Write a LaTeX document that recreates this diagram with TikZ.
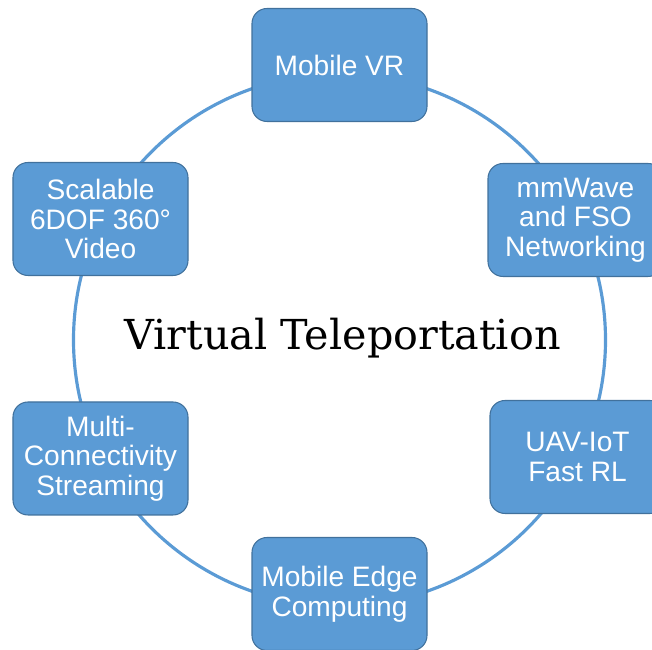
\documentclass[tikz,border=0pt]{standalone}
\usepackage{fontspec}
\setmainfont{Liberation Sans}
\newfontfamily\titlefont{DejaVu Serif}
\usepackage{tikz}
\definecolor{boxblue}{HTML}{5B9BD5}
\definecolor{boxline}{HTML}{41719C}

\begin{document}
\begin{tikzpicture}[auto,
    topic/.style={rectangle, rounded corners=0.3cm, draw=boxline, line width=0.6pt, fill=boxblue,
      text=white, align=center, minimum width=3.5cm, minimum height=2.26cm, inner sep=1pt,
      font=\fontsize{16}{16.8}\selectfont},
    ring/.style={draw=boxblue, line width=1.8pt}]

    \clip (0,0) rectangle (13.04,13.0);

    % Define the centre label and the ring round it
    \node[font=\titlefont\fontsize{23.5}{26}\selectfont] (tele) at (6.85,6.24) {Virtual Teleportation};
    \coordinate (mid) at (6.79,6.2);
    \draw[ring] (mid) circle (5.32cm);

    % Define the topic boxes with coordinates
    \node[topic] (vr) at (6.79,11.7) {Mobile VR};
    \node[topic] (mmw) at (11.51,8.6) {mmWave\\and FSO\\Networking};
    \node[topic] (uav) at (11.55,3.86) {UAV-IoT\\Fast RL};
    \node[topic] (mec) at (6.79,1.12) {Mobile Edge\\Computing};
    \node[topic] (multi) at (2.01,3.83) {Multi-\\Connectivity\\Streaming};
    \node[topic] (dof) at (2.01,8.62) {Scalable\\6DOF 360°\\Video};
\end{tikzpicture}
\end{document}
